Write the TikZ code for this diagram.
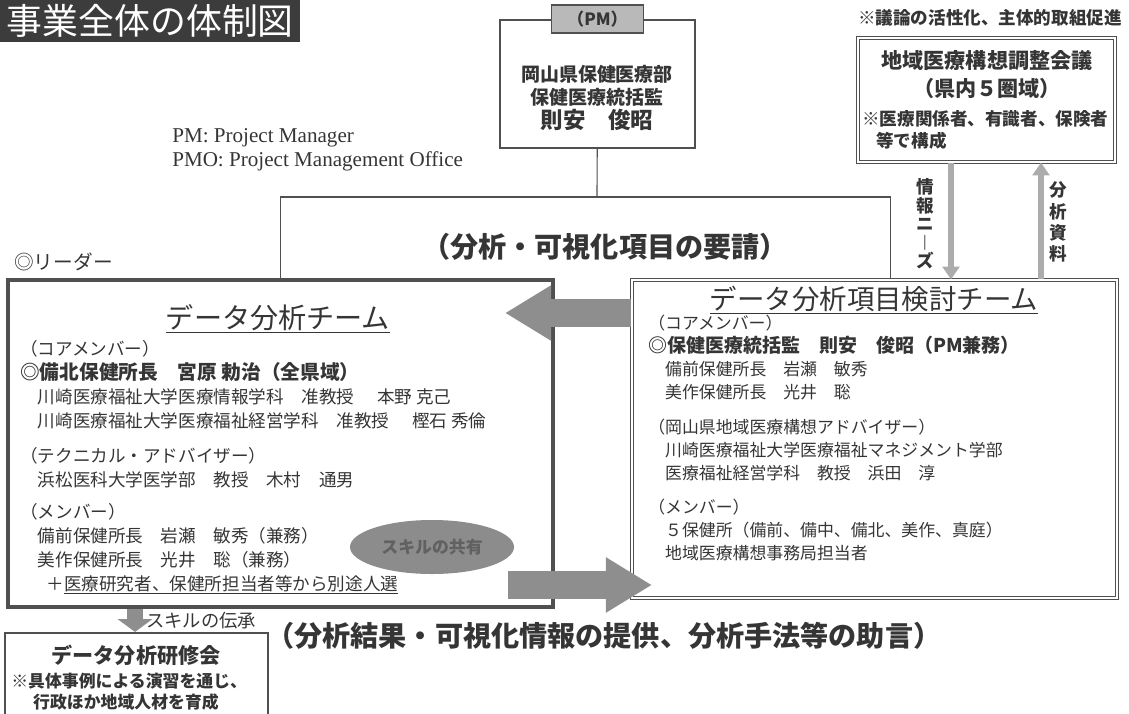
\documentclass[tikz,border=0pt]{standalone}
\usepackage{fontspec}
\setmainfont{Noto Sans CJK JP}
\newfontfamily\engfont{Liberation Serif}
\usetikzlibrary{positioning, arrows.meta, shapes.geometric, fit}
\definecolor{ink}{HTML}{353535}
\definecolor{framegray}{HTML}{505050}
\definecolor{titlegray}{HTML}{3C3C3C}
\definecolor{blockgray}{HTML}{8E8E8E}
\newcommand{\pxu}{0.025cm}
\newcommand{\fsz}[2]{\fontsize{#1}{#2}\selectfont}
\newcommand{\blockarrow}{-{Triangle[length=1.15cm,width=1.3cm]}}
\newcommand{\slimarrow}{-{Triangle[length=0.32cm,width=0.42cm]}}

\begin{document}
\begin{tikzpicture}[x=\pxu, y=-\pxu, every node/.style={text=ink, inner sep=0pt},
    titlebox/.style={fill=titlegray, text=white, minimum width=7.5cm, minimum height=1.05cm, font=\fsz{25.5}{28}},
    boxframe/.style={draw=framegray, line width=1.5pt},
    teamframe/.style={draw=framegray, line width=2.6pt},
    pairframe/.style={draw=framegray, double, double distance=1.4pt, line width=0.9pt},
    pmlabel/.style={fill=gray!55, draw=framegray, line width=1pt, minimum width=2.3cm, minimum height=0.7cm, font=\bfseries\fsz{12}{14}},
    wire/.style={draw=framegray, line width=0.8pt},
    blockline/.style={draw=blockgray, line width=0.7cm, \blockarrow},
    skillarrow/.style={draw=blockgray, line width=0.4cm, -{Triangle[length=0.32cm,width=0.85cm]}},
    slim/.style={draw=gray!65, line width=0.17cm, \slimarrow},
    vlabel/.style={align=center, font=\bfseries\fsz{12.5}{13.2}},
    bigtext/.style={font=\bfseries\fsz{20}{24}},
    teamtitle/.style={font=\fsz{20}{24}},
    memberlist/.style={anchor=north west, align=left},
    skillblob/.style={ellipse, fill=black!45, minimum width=4.1cm, minimum height=1.35cm, text=black!62, font=\bfseries\fsz{12}{14}}]

\useasboundingbox (0,0) rectangle (1129,714);

% title
\node[titlebox, anchor=north west] (title) at (0,0) {事業全体の体制図};

% PM
\node[boxframe, fit={(500,20) (695,148)}] (pmframe) {};
\node[pmlabel] (pmlabel) at (pmframe.north) {（PM）};
\node[align=center, font=\bfseries\fsz{13.5}{17}] (pmname) at (597,98)
    {岡山県保健医療部\\保健医療統括監\\{\fsz{16}{17}則安　俊昭}};
\node[memberlist, font=\engfont\fsz{15}{17}] (pmnote) at (172,128)
    {PM: Project Manager\\PMO: Project Management Office};

% regional meeting
\node[font=\bfseries\fsz{12.5}{15}] (promote) at (990,18) {※議論の活性化、主体的取組促進};
\node[pairframe, fit={(858,38) (1115,162)}] (meeting) {};
\node[align=center, font=\bfseries\fsz{15}{20}] (meettitle) at (987,75)
    {地域医療構想調整会議\\（県内５圏域）};
\node[memberlist, font=\bfseries\fsz{12.5}{15.6}] (meetnote) at (862,110)
    {※医療関係者、有識者、保険者\\\hspace*{0.8em}等で構成};

% teams
\node[teamframe, fit={(8,280) (553,607)}] (anateam) {};
\node[pairframe, fit={(632,280) (1117,598)}] (itemteam) {};

\coordinate (split) at (597,197);
\draw[wire] (pmframe) -- (split);
\draw[wire] (split) -| (anateam.north);
\draw[wire] (split) -| ([xshift=0.4cm]itemteam.north);

\node[bigtext] (request) at (605,247) {（分析・可視化項目の要請）};
\node[anchor=west, font=\fsz{14}{16}] (leader) at (14,262) {◎リーダー};

\node[teamtitle] (anatitle) at (278,319) {\underline{データ分析チーム}};
\node[memberlist, font=\fsz{12.5}{17}] (anabody) at (20,340) {%
（コアメンバー）\\
{\bfseries\fsz{14}{17}◎備北保健所長　宮原 勅治（全県域）}\\
\hspace*{1em}川崎医療福祉大学医療情報学科　准教授\hspace{1.3em}本野 克己\\
\hspace*{1em}川崎医療福祉大学医療福祉経営学科　准教授\hspace{1.3em}樫石 秀倫\\[8pt]
（テクニカル・アドバイザー）\\
\hspace*{1em}浜松医科大学医学部　教授　木村　通男\\[6pt]
（メンバー）\\
\hspace*{1em}備前保健所長　岩瀬　敏秀（兼務）\\
\hspace*{1em}美作保健所長　光井　聡（兼務）\\
\hspace*{1.5em}＋\underline{医療研究者、保健所担当者等から別途人選}};

\node[teamtitle, font=\fsz{19.5}{24}] (itemtitle) at (874,300) {\underline{データ分析項目検討チーム}};
\node[memberlist, font=\fsz{12}{16.4}] (itembody) at (648,315) {%
（コアメンバー）\\
{\bfseries\fsz{13.5}{16.4}◎保健医療統括監　則安　俊昭（PM兼務）}\\
\hspace*{1em}備前保健所長　岩瀬　敏秀\\
\hspace*{1em}美作保健所長　光井　聡\\[8pt]
（岡山県地域医療構想アドバイザー）\\
\hspace*{1em}川崎医療福祉大学医療福祉マネジメント学部\\
\hspace*{1em}医療福祉経営学科　教授　浜田　淳\\[8pt]
（メンバー）\\
\hspace*{1em}５保健所（備前、備中、備北、美作、真庭）\\
\hspace*{1em}地域医療構想事務局担当者};

\node[skillblob] (skillshare) at (432,547) {スキルの共有};

% between meeting and item team
\coordinate (needs) at (951,0);
\coordinate (papers) at (1041,0);
\draw[slim] (meeting.south -| needs) -- (itemteam.north -| needs);
\draw[slim] (itemteam.north -| papers) -- (meeting.south -| papers);
\node[vlabel] (needlabel) at (925,224) {情\\報\\ニ\\︱\\ズ};
\node[vlabel, font=\bfseries\fsz{12.5}{15}] (paperlabel) at (1058,222) {分\\析\\資\\料};

% between the two teams
\coordinate (requesttip) at (505,313);
\draw[blockline] (itemteam.west |- requesttip) -- (requesttip);
\coordinate (resultbase) at (508,585);
\coordinate (resulttip) at (652,585);
\draw[blockline] (resultbase) -- (resulttip);
\node[bigtext, anchor=west] (result) at (266,636) {（分析結果・可視化情報の提供、分析手法等の助言）};

% training
\node[boxframe, fit={(5,633) (268,716)}] (training) {};
\coordinate (handover) at (135,0);
\draw[skillarrow] (anateam.south -| handover) -- (training.north -| handover);
\node[anchor=west, font=\fsz{13}{15}] (handovertext) at (146,621) {スキルの伝承};
\node[font=\bfseries\fsz{15}{17}] (trainingtitle) at (136,655) {データ分析研修会};
\node[memberlist, font=\bfseries\fsz{12}{15}] (trainingnote) at (11,673)
    {※具体事例による演習を通じ、\\\hspace*{1.3em}行政ほか地域人材を育成};
\end{tikzpicture}
\end{document}
